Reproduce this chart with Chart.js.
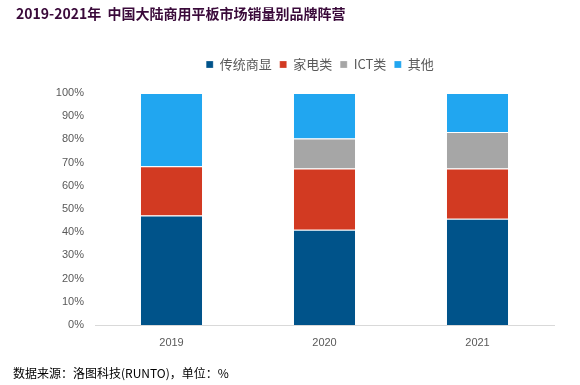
<!DOCTYPE html>
<html>
<head>
<meta charset="utf-8">
<script src="https://cdn.jsdelivr.net/npm/chart.js@4"></script>
<style>
  html, body { margin: 0; padding: 0; background: #fff; }
  #wrap { position: relative; width: 580px; height: 385px; }
  #title {
    position: absolute; left: 16px; top: 3px;
    font: bold 14px "Noto Sans CJK SC", sans-serif; color: #3a0a3a;
    white-space: pre;
  }
  #note {
    position: absolute; left: 13px; top: 364px;
    font: 12px "Noto Sans CJK SC", sans-serif; color: #000;
  }
</style>
</head>
<body>
<div id="wrap">
  <canvas id="chart" width="580" height="385"></canvas>
  <div id="title">2019-2021年  中国大陆商用平板市场销量别品牌阵营</div>
  <div id="note">数据来源：洛图科技(RUNTO)，单位：%</div>
</div>
<script>
const years = ['2019', '2020', '2021'];
const traditional = [47.2, 41.1, 45.8];
const appliance = [21.2, 26.4, 21.7];
const ict = [0, 12.9, 15.7];
const others = [31.6, 19.6, 16.8];

const ctx = document.getElementById('chart');

function seg(label, data, color) {
  return {
    label: label,
    data: data,
    backgroundColor: color,
    borderColor: '#ffffff',
    borderWidth: { top: 1, left: 0, right: 0, bottom: 0 },
    borderSkipped: false,
    barPercentage: 0.4,
    categoryPercentage: 1
  };
}

// extra space under the legend, and centre it over the plot area
const legendGap = {
  id: 'legendGap',
  beforeInit(chart) {
    const fit = chart.legend.fit;
    chart.legend.fit = function () {
      fit.call(this);
      this.height += 12;
    };
  },
  afterLayout(chart) {
    chart.legend.left = 86;
  }
};

new Chart(ctx, {
  type: 'bar',
  data: {
    labels: years,
    datasets: [
      seg('传统商显', traditional, '#00538a'),
      seg('家电类', appliance, '#d23a22'),
      seg('ICT类', ict, '#a6a6a6'),
      seg('其他', others, '#21a6f0')
    ]
  },
  options: {
    responsive: false,
    animation: false,
    layout: { padding: { top: 50, right: 26, left: 0, bottom: 0 } },
    plugins: {
      tooltip: { enabled: false },
      legend: {
        position: 'top',
        labels: {
          boxWidth: 7,
          boxHeight: 7,
          padding: 8,
          color: '#595959',
          font: { family: '"Noto Sans CJK SC", sans-serif', size: 13 }
        }
      }
    },
    scales: {
      x: {
        stacked: true,
        grid: { display: false },
        border: { display: true, color: '#d9d9d9' },
        ticks: { color: '#595959', font: { family: 'Liberation Sans', size: 11 }, padding: 3 },
        afterFit: function (s) { s.height = 60; }
      },
      y: {
        stacked: true,
        min: 0,
        max: 100,
        grid: { display: false },
        border: { display: false },
        ticks: {
          stepSize: 10,
          color: '#595959',
          font: { family: 'Liberation Sans', size: 11 },
          callback: function (v) { return v + '%'; }
        },
        afterFit: function (s) { s.width = 95; }
      }
    }
  },
  plugins: [legendGap]
});
</script>
</body>
</html>
